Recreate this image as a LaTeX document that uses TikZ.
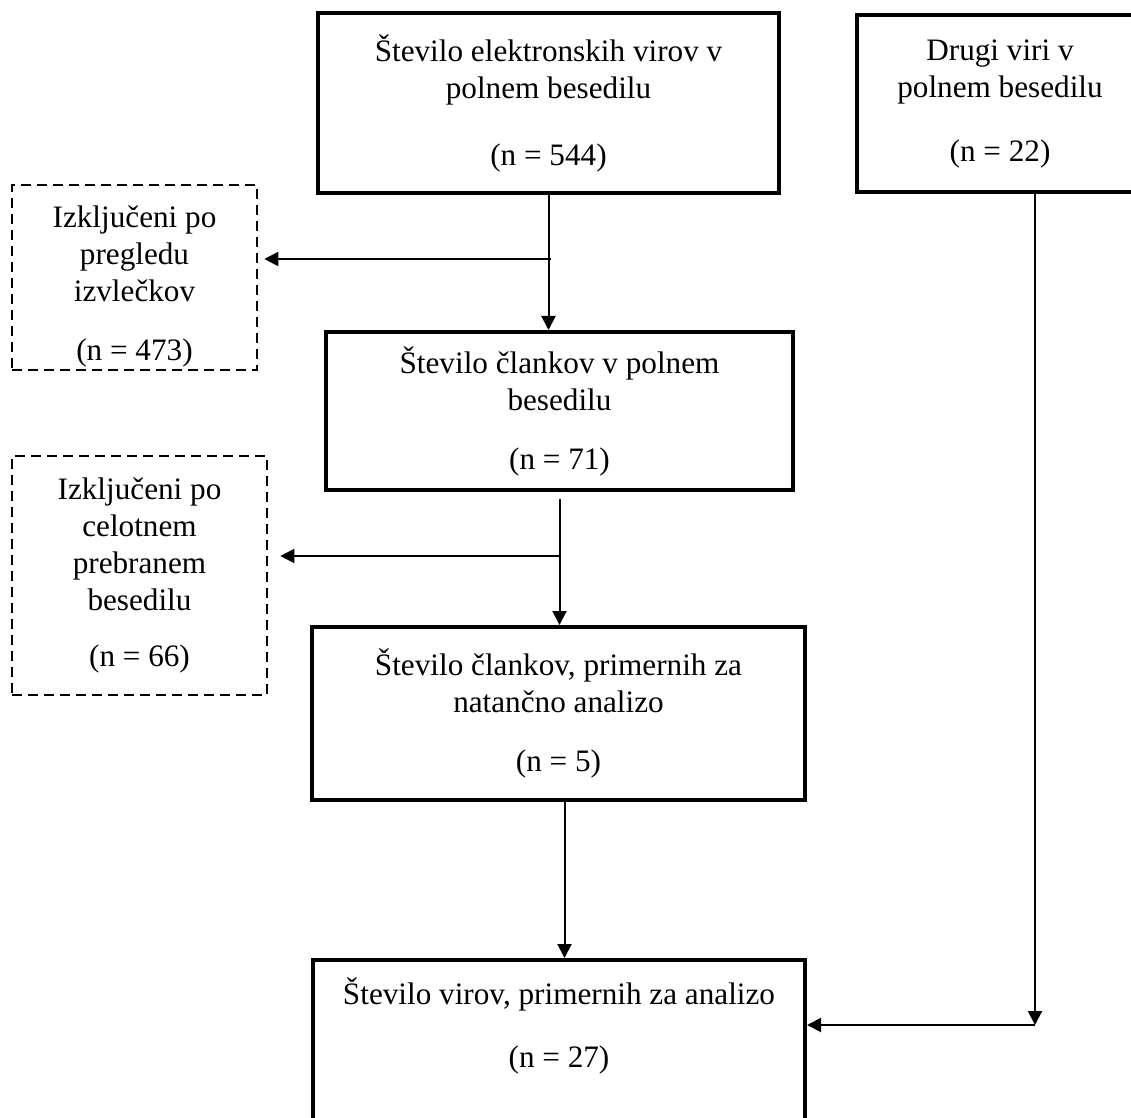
\documentclass[tikz,border=0pt]{standalone}
\usepackage{fontspec}
\setmainfont{Liberation Serif}
\usetikzlibrary{arrows.meta, positioning, calc}
\tikzset{
  stage/.style={draw, line width=2pt, inner sep=0pt, align=center, font=\fontsize{15.6}{18.5}\selectfont},
  excluded/.style={draw, line width=1.3pt, dash pattern=on 5pt off 3pt, inner sep=0pt, align=center, font=\fontsize{15.6}{18.5}\selectfont},
  flow/.style={line width=1pt, -{Triangle[length=7pt, width=7pt]}}
}
\begin{document}
\begin{tikzpicture}[x=0.5pt, y=-0.5pt]
\useasboundingbox (0,0) rectangle (1131,1118);
% main column of the flow
\node[stage, minimum width=230.5pt, minimum height=90pt] (records) at (548.5,103) {Število elektronskih virov v\\polnem besedilu\\[15pt](n = 544)};
\node[stage, minimum width=143pt, minimum height=88.5pt] (other) at (1000,103.5) {Drugi viri v\\polnem besedilu\\[13.5pt](n = 22)};
\node[stage, minimum width=233.5pt, minimum height=79pt] (fulltext) at (559.5,411) {Število člankov v polnem\\besedilu\\[11pt](n = 71)};
\node[stage, minimum width=246.5pt, minimum height=86.5pt] (eligible) at (558.5,713.5) {Število člankov, primernih za\\natančno analizo\\[11pt](n = 5)};
\node[stage, minimum width=246pt, minimum height=95pt] (included) at (559,1055) {Število virov, primernih za analizo\\[13pt](n = 27)\\[14pt]\mbox{}};
% exclusions on the left
\node[excluded, minimum width=122.5pt, minimum height=92.5pt] (excl1) at (134.5,277.5) {\rule{0pt}{20pt}Izključeni po\\pregledu\\izvlečkov\\[11pt](n = 473)};
\node[excluded, minimum width=127.5pt, minimum height=119.5pt] (excl2) at (139.5,575.5) {Izključeni po\\celotnem\\prebranem\\besedilu\\[9.5pt](n = 66)};
% connectors
\draw[flow] (records.south) -- (records.south |- fulltext.north);
\coordinate (j1) at (551,259);
\draw[flow, shorten >=3pt] (j1) -- (j1 -| excl1.east);
\draw[flow, shorten <=3.5pt] (fulltext.south) -- (fulltext.south |- eligible.north);
\coordinate (j2) at (559.5,556);
\draw[flow, shorten >=6pt] (j2) -- (j2 -| excl2.east);
\draw[flow] ([xshift=3pt]eligible.south) -- ([xshift=3pt]eligible.south |- included.north);
\coordinate (bend) at (1035,1025);
\draw[flow] (bend |- other.south) -- (bend);
\draw[flow] (bend) -- (bend -| included.east);
\end{tikzpicture}
\end{document}
